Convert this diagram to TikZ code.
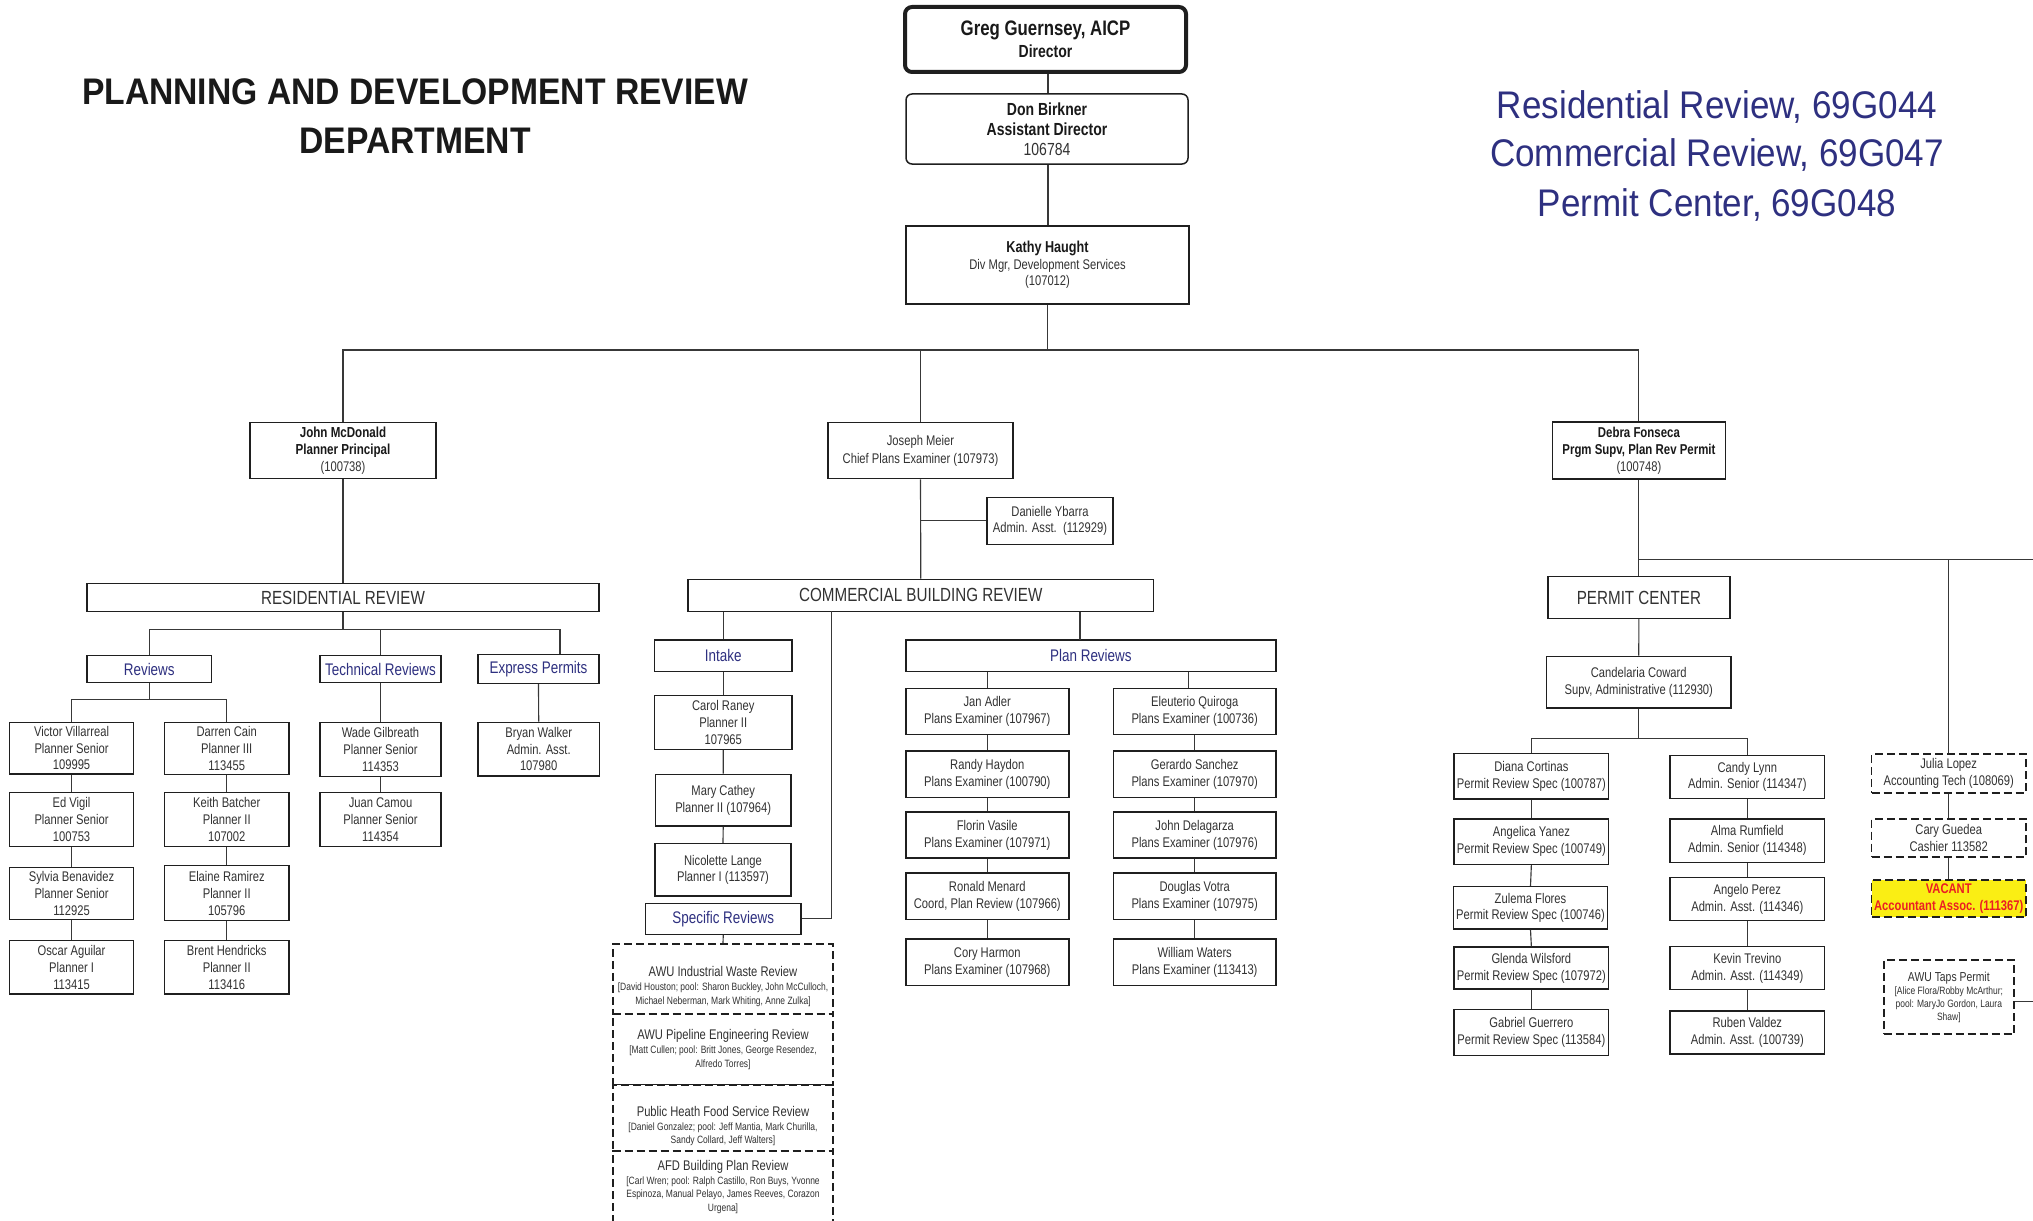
\documentclass[tikz,border=0pt]{standalone}
\usepackage{fontspec}
\setmainfont[FakeStretch=0.8]{Liberation Sans}
\newfontfamily\ttlfont[FakeStretch=0.91]{Liberation Sans}
\usetikzlibrary{calc}
\definecolor{navy}{RGB}{46,48,128}
\definecolor{txt}{RGB}{50,50,50}
\definecolor{vacy}{RGB}{250,238,20}
\definecolor{vacr}{RGB}{235,30,35}
\newcommand{\fs}[2]{\fontsize{#1}{#2}\selectfont}
\tikzset{
 box/.style={draw=black!88, line width=1.5pt, inner sep=0pt, align=center, fill=white, text=txt, font=\fs{14}{16.8}},
 dbox/.style={box, dash pattern=on 8pt off 4pt, line width=1.8pt},
 hdr/.style={box, font=\fs{19}{22}},
 subbox/.style={box, text=navy, font=\fs{16.8}{19}},
 spectxt/.style={font=\fs{10.6}{13.3}},
 conn/.style={draw=black!78, line width=1.15pt},
}
\newcommand{\bx}[7][]{\node[box,#1, minimum width={(#4-#2)*1pt}, minimum height={(#5-#3)*1pt}] (#6) at ({(#2+#4)/2},{(#3+#5)/2}) {#7};}
\newcommand{\ttl}[1]{{\fs{14}{16}#1}}
\begin{document}
\begin{tikzpicture}[x=1pt,y=-1pt]
\useasboundingbox (0,0) rectangle (2033,1220);
\clip (0,0) rectangle (2033,1220);

% titles
\node[anchor=base, font=\ttlfont\bfseries\fs{37}{40}, text=black!90] (t1) at (415,105) {PLANNING AND DEVELOPMENT REVIEW};
\node[anchor=base, font=\ttlfont\bfseries\fs{37}{40}, text=black!90] (t2) at (415,153.3) {DEPARTMENT};
\node[anchor=base, font=\ttlfont\fs{38.5}{40}, text=navy] (r1) at (1717,118.3) {Residential Review, 69G044};
\node[anchor=base, font=\ttlfont\fs{38.5}{40}, text=navy] (r2) at (1717,166.7) {Commercial Review, 69G047};
\node[anchor=base, font=\ttlfont\fs{38.5}{40}, text=navy] (r3) at (1717,216.7) {Permit Center, 69G048};

% top
\bx[line width=4pt, rounded corners=7pt, font=\bfseries\fs{21}{22}, text=black!90]{905}{7}{1186}{72}{greg}{Greg Guernsey, AICP\\{\fs{17.5}{20}Director}}
\bx[rounded corners=6pt, font=\bfseries\fs{17.5}{20}, text=black!90]{906}{94}{1188}{164}{don}{Don Birkner\\Assistant Director\\{\mdseries\color{txt}106784}}
\bx[font=\fs{14}{16.5}]{906}{226}{1189}{304}{kathy}{{\bfseries\fs{15.8}{16.5}\color{black!90}Kathy Haught}\\Div Mgr, Development Services\\(107012)}

% managers
\bx[font=\fs{14}{17}]{250}{422.3}{436}{478.7}{john}{{\bfseries\fs{14.5}{17}\color{black!90}John McDonald}\\{\bfseries\fs{14.5}{17}\color{black!90}Planner Principal}\\(100738)}
\bx[font=\fs{14}{18}]{828}{422.3}{1013}{478.7}{joseph}{Joseph Meier\\Chief Plans Examiner (107973)}
\bx[font=\fs{14}{17}]{1552.3}{422}{1725.5}{479}{debra}{{\bfseries\fs{14.3}{17}\color{black!90}Debra Fonseca}\\{\bfseries\fs{14.3}{17}\color{black!90}Prgm Supv, Plan Rev Permit}\\(100748)}
\bx[font=\fs{14}{16}]{987}{497.3}{1113}{544.3}{dani}{Danielle Ybarra\\Admin. Asst.\ \ (112929)}

% headers
\bx[hdr]{87}{583.7}{599}{611.3}{rr}{RESIDENTIAL REVIEW}
\bx[hdr]{688}{579.3}{1153.6}{611.3}{cbr}{COMMERCIAL BUILDING REVIEW}
\bx[hdr]{1547.8}{576.7}{1730}{618.3}{pc}{PERMIT CENTER}

\bx[subbox]{87}{655.7}{211.5}{682.3}{revs}{Reviews}
\bx[subbox]{320}{655.7}{441}{682.3}{tech}{Technical Reviews}
\bx[subbox]{478}{654.3}{599}{683.3}{expr}{Express Permits}
\bx[subbox]{654.5}{640}{792}{671.7}{intake}{Intake}
\bx[subbox]{905.8}{640}{1276}{671.7}{planrev}{Plan Reviews}
\bx[subbox]{645.5}{903.3}{801}{934.3}{spec}{Specific Reviews}

% residential staff
\bx{9.5}{722.3}{133.6}{774}{victor}{Victor Villarreal\\Planner Senior\\109995}
\bx{9.5}{792.7}{133.6}{846.7}{ed}{Ed Vigil\\Planner Senior\\100753}
\bx{9.5}{867.3}{133.6}{919.3}{sylvia}{Sylvia Benavidez\\Planner Senior\\112925}
\bx{9.5}{940.7}{133.6}{994}{oscar}{Oscar Aguilar\\Planner I\\113415}
\bx{164.5}{722.3}{289}{774.3}{darren}{Darren Cain\\Planner III\\113455}
\bx{164.5}{792.7}{289}{846.3}{keith}{Keith Batcher\\Planner II\\107002}
\bx{164.5}{865.7}{289}{920.7}{elaine}{Elaine Ramirez\\Planner II\\105796}
\bx{164.5}{940.7}{289}{994}{brent}{Brent Hendricks\\Planner II\\113416}
\bx{320}{722.3}{441}{776.7}{wade}{Wade Gilbreath\\Planner Senior\\114353}
\bx{320}{792.3}{441}{846.7}{juan}{Juan Camou\\Planner Senior\\114354}
\bx{478}{722.3}{599.4}{776}{bryan}{Bryan Walker\\Admin. Asst.\\107980}

% commercial staff
\bx{654.5}{695.7}{792}{749.3}{carol}{Carol Raney\\Planner II\\107965}
\bx{655.4}{774.3}{791}{826}{mary}{Mary Cathey\\Planner II (107964)}
\bx{655}{843.7}{791}{896}{nic}{Nicolette Lange\\Planner I (113597)}
\bx{905.8}{688.3}{1068.75}{734.3}{jan}{Jan Adler\\Plans Examiner (107967)}
\bx{905.8}{751}{1068.75}{797.3}{randy}{Randy Haydon\\Plans Examiner (100790)}
\bx{905.8}{812}{1068.75}{858}{florin}{Florin Vasile\\Plans Examiner (107971)}
\bx{905.8}{873}{1068.75}{919.3}{ronald}{Ronald Menard\\Coord, Plan Review (107966)}
\bx{905.8}{939}{1068.75}{985.3}{cory}{Cory Harmon\\Plans Examiner (107968)}
\bx{1113.4}{688.3}{1276}{734.3}{eleu}{Eleuterio Quiroga\\Plans Examiner (100736)}
\bx{1113.4}{751}{1276}{797.3}{gerardo}{Gerardo Sanchez\\Plans Examiner (107970)}
\bx{1113.4}{812}{1276}{858}{johnd}{John Delagarza\\Plans Examiner (107976)}
\bx{1113.4}{873}{1276}{919.3}{douglas}{Douglas Votra\\Plans Examiner (107975)}
\bx{1113.4}{939}{1276}{985.3}{william}{William Waters\\Plans Examiner (113413)}

% specific reviews (dashed)
\bx[dbox, spectxt]{612.7}{944}{833.3}{1014}{awu1}{\rule{0pt}{25pt}\ttl{AWU Industrial Waste Review}\\[1pt][David Houston; pool: Sharon Buckley, John McCulloch,\\Michael Neberman, Mark Whiting, Anne Zulka]}
\bx[dbox, spectxt]{612.7}{1014}{833.3}{1084.7}{awu2}{\ttl{AWU Pipeline Engineering Review}\\[1pt][Matt Cullen; pool: Britt Jones, George Resendez,\\Alfredo Torres]}
\bx[dbox, spectxt]{612.7}{1084.7}{833.3}{1151.3}{phf}{\rule{0pt}{26pt}\ttl{Public Heath Food Service Review}\\[1pt][Daniel Gonzalez; pool: Jeff Mantia, Mark Churilla,\\Sandy Collard, Jeff Walters]}
\bx[dbox, spectxt]{612.7}{1151.3}{833.3}{1222}{afd}{\ttl{AFD Building Plan Review}\\[1pt][Carl Wren; pool: Ralph Castillo, Ron Buys, Yvonne\\Espinoza, Manual Pelayo, James Reeves, Corazon\\Urgena]}

% permit staff
\bx[font=\fs{14}{17}]{1546.3}{656.3}{1731.2}{708}{cand}{Candelaria Coward\\Supv, Administrative (112930)}
\bx{1454}{753.7}{1608.7}{799}{diana}{Diana Cortinas\\Permit Review Spec (100787)}
\bx{1454}{819}{1608.7}{864.3}{angelica}{Angelica Yanez\\Permit Review Spec (100749)}
\bx{1453.5}{886.7}{1607.5}{929}{zulema}{Zulema Flores\\Permit Review Spec (100746)}
\bx{1454}{947}{1608.7}{989}{glenda}{Glenda Wilsford\\Permit Review Spec (107972)}
\bx{1454}{1009.3}{1608.7}{1055.7}{gabriel}{Gabriel Guerrero\\Permit Review Spec (113584)}
\bx{1670}{755.3}{1824.6}{798.3}{candy}{Candy Lynn\\Admin. Senior (114347)}
\bx{1670}{819}{1824.6}{862.3}{alma}{Alma Rumfield\\Admin. Senior (114348)}
\bx{1670}{877.3}{1824.6}{920.7}{angelo}{Angelo Perez\\Admin. Asst. (114346)}
\bx{1670}{946.3}{1824.6}{989.7}{kevin}{Kevin Trevino\\Admin. Asst. (114349)}
\bx{1670}{1011}{1824.6}{1054}{ruben}{Ruben Valdez\\Admin. Asst. (100739)}
\bx[dbox]{1871.5}{754.3}{2025.9}{792.7}{julia}{Julia Lopez\\Accounting Tech (108069)}
\bx[dbox]{1871.5}{818.7}{2025.9}{857}{cary}{Cary Guedea\\Cashier 113582}
\bx[dbox, fill=vacy, text=vacr, font=\bfseries\fs{14}{16.5}]{1871.5}{880.3}{2025.9}{917.3}{vacant}{VACANT\\Accountant Assoc. (111367)}
\bx[dbox, font=\fs{10.6}{12.6}]{1883.6}{960}{2014}{1034.3}{taps}{{\fs{13}{14}AWU Taps Permit}\\[1pt][Alice Flora/Robby McArthur;\\pool: MaryJo Gordon, Laura\\Shaw]}

% connectors: top
\coordinate (topbus) at (0,350);
\coordinate (spine) at (1048,0);
\draw[conn] (greg.south -| spine) -- (don.north -| spine);
\draw[conn] (don.south -| spine) -- (kathy.north -| spine);
\draw[conn] (kathy.south) -- (kathy.south |- topbus);
\draw[conn] (john.north) -- (john.north |- topbus) -- (debra.north |- topbus) -- (debra.north);
\draw[conn] (joseph.north) -- (joseph.north |- topbus);

% residential
\coordinate (rrbus) at (0,629.3);
\coordinate (expin) at (560,654.3);
\coordinate (revbus) at (0,699.3);
\draw[conn] (john.south) -- (rr.north);
\draw[conn] (rr.south) -- (rr.south |- rrbus);
\draw[conn] (revs.north) -- (revs.north |- rrbus) -| (expin);
\draw[conn] (tech.north) -- (tech.north |- rrbus);
\draw[conn] (revs.south) -- (revs.south |- revbus);
\draw[conn] (victor.north) -- (victor.north |- revbus) -| (darren.north);
\draw[conn] (victor.south) -- (ed.north);
\draw[conn] (ed.south) -- (sylvia.north);
\draw[conn] (sylvia.south) -- (oscar.north);
\draw[conn] (darren.south) -- (keith.north);
\draw[conn] (keith.south) -- (elaine.north);
\draw[conn] (elaine.south) -- (brent.north);
\draw[conn] (tech.south) -- (wade.north);
\draw[conn] (wade.south) -- (juan.north);
\draw[conn] (expr.south) -- (bryan.north);

% commercial
\coordinate (prin) at (1080,640);
\coordinate (cbrdrop) at (831.7,611.3);
\coordinate (elx) at (1188.8,0);
\draw[conn] (joseph.south) -- (cbr.north);
\draw[conn] (dani.west) -- (dani.west -| joseph.south);
\draw[conn] (intake.north) -- (intake.north |- cbr.south);
\draw[conn] (prin) -- (prin |- cbr.south);
\draw[conn] (cbrdrop) |- (spec.east);
\draw[conn] (intake.south) -- (carol.north);
\draw[conn] (carol.south) -- (mary.north);
\draw[conn] (mary.south) -- (nic.north);
\draw[conn] (spec.south) -- (awu1.north);
\draw[conn] (jan.north) -- (jan.north |- planrev.south);
\draw[conn] (eleu.north -| elx) -- (planrev.south -| elx);
\draw[conn] (jan.south) -- (randy.north);
\draw[conn] (randy.south) -- (florin.north);
\draw[conn] (florin.south) -- (ronald.north);
\draw[conn] (ronald.south) -- (cory.north);
\draw[conn] (eleu.south) -- (gerardo.north);
\draw[conn] (gerardo.south) -- (johnd.north);
\draw[conn] (johnd.south) -- (douglas.north);
\draw[conn] (douglas.south) -- (william.north);

% permit
\coordinate (pcbus) at (2040,559.7);
\coordinate (candbus) at (0,738.3);
\coordinate (tapsout) at (2040,1001.7);
\draw[conn] (debra.south) -- (pc.north);
\draw[conn] (debra.south |- pcbus) -- (pcbus);
\draw[conn] (julia.north) -- (julia.north |- pcbus);
\draw[conn] (pc.south) -- (cand.north);
\draw[conn] (cand.south) -- (cand.south |- candbus);
\draw[conn] (diana.north) -- (diana.north |- candbus) -| (candy.north);
\draw[conn] (diana.south) -- (angelica.north);
\draw[conn] (angelica.south) -- (zulema.north);
\draw[conn] (zulema.south) -- (glenda.north);
\draw[conn] (glenda.south) -- (gabriel.north);
\draw[conn] (candy.south) -- (alma.north);
\draw[conn] (alma.south) -- (angelo.north);
\draw[conn] (angelo.south) -- (kevin.north);
\draw[conn] (kevin.south) -- (ruben.north);
\draw[conn] (julia.south) -- (cary.north);
\draw[conn] (cary.south) -- (vacant.north);
\draw[conn] (taps.east |- tapsout) -- (tapsout);
\end{tikzpicture}
\end{document}
